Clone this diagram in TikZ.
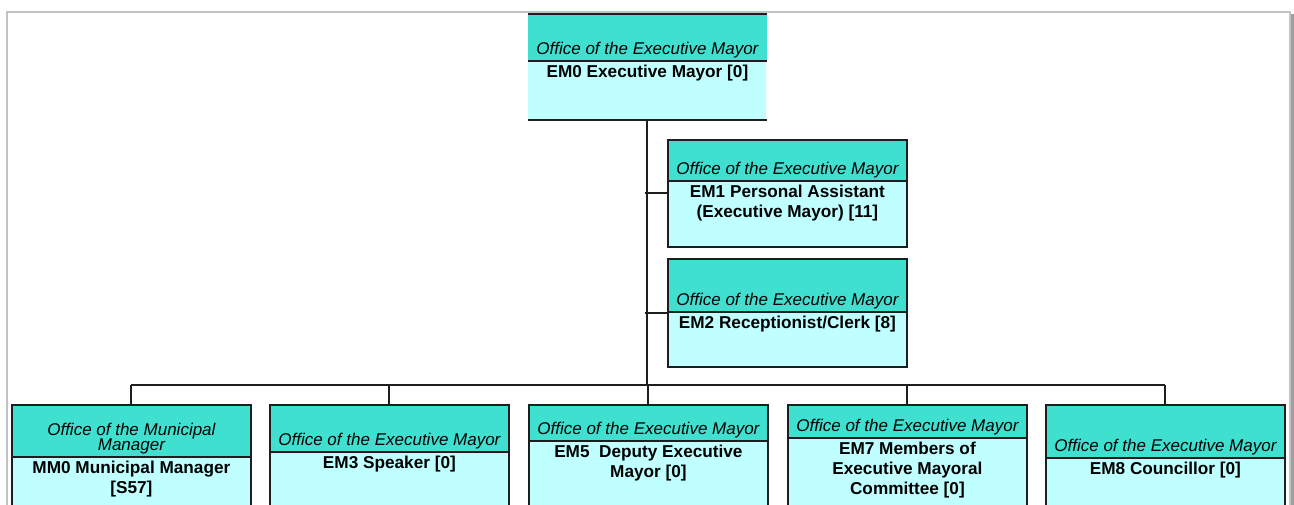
\documentclass[tikz,border=0pt]{standalone}
\usepackage{fontspec}
\setmainfont{Liberation Sans}
\usepackage{tikz}
\usetikzlibrary{calc}

\definecolor{headteal}{RGB}{64,224,208}
\definecolor{bodycyan}{RGB}{192,255,255}
\definecolor{lineink}{RGB}{30,30,30}
\definecolor{pagegrey}{RGB}{195,195,195}
\definecolor{pageshade}{RGB}{160,160,160}

\begin{document}
\begin{tikzpicture}[
  x=0.5pt, y=-0.5pt,
  boxline/.style={draw=lineink, line width=1pt},
  link/.style={draw=lineink, line width=1pt},
  pageline/.style={draw=pagegrey, line width=0.8pt},
  orgbox/.style={fill=bodycyan, minimum width=119pt, inner sep=0pt, anchor=north west},
  headtext/.style={font=\fontsize{8.5}{8.5}\selectfont\itshape,
    align=center, inner xsep=0pt, inner ysep=1.2pt, anchor=south},
  bodytext/.style={font=\fontsize{8.6}{10}\selectfont\bfseries,
    align=center, inner xsep=0pt, inner ysep=2pt, anchor=north}
]
\useasboundingbox (0,0) rectangle (1294,504);

% --- Page edge ---
\draw[pageline] (7,520) -- (7,12) -- (1290,12) -- (1290,520);
\fill[pageshade] (1291,14) rectangle (1294,520);

% --- Box helper: [sides], name, top-left, height, header depth, header, body ---
\newcommand{\OrgBox}[7][1]{%
  % Body panel
  \node[orgbox, minimum height=#4] (#2) at (#3) {};

  % Header band and divider
  \fill[headteal] (#2.north west) rectangle ([yshift=-#5]#2.north east);
  \draw[boxline] ([yshift=-#5]#2.north west) -- ([yshift=-#5]#2.north east);

  % Frame (open at the sides when #1 is 0)
  \ifnum#1=1
    \draw[boxline] (#2.north west) rectangle (#2.south east);
  \else
    \draw[boxline] (#2.north west) -- (#2.north east);
    \draw[boxline] (#2.south west) -- (#2.south east);
  \fi

  % Header text sits on the divider, body text hangs below it
  \node[headtext] (#2-head) at ([yshift=-#5]#2.north) {#6};
  \node[bodytext] (#2-body) at ([yshift=-#5]#2.north) {#7};
}

% --- Top of the office ---
\OrgBox[0]{EM0}{528,14}{52.5pt}{23.5pt}{Office of the Executive Mayor}{EM0 Executive Mayor [0]}
\OrgBox{EM1}{668,140}{53pt}{20.5pt}{Office of the Executive Mayor}{EM1 Personal Assistant\\(Executive Mayor) [11]}
\OrgBox{EM2}{668,259}{53.5pt}{26.5pt}{Office of the Executive Mayor}{EM2 Receptionist/Clerk [8]}

% --- Bottom row ---
\OrgBox{MM0}{12,405}{60pt}{26pt}{Office of the Municipal\\[-1pt]Manager}{MM0 Municipal Manager\\{[S57]}}
\OrgBox{EM3}{270,405}{60pt}{23.5pt}{Office of the Executive Mayor}{EM3 Speaker [0]}
\OrgBox{EM5}{529,405}{60pt}{18pt}{Office of the Executive Mayor}{EM5\ \ Deputy Executive\\Mayor [0]}
\OrgBox{EM7}{788,405}{60pt}{16.5pt}{Office of the Executive Mayor}{EM7 Members of\\Executive Mayoral\\Committee [0]}
\OrgBox{EM8}{1046,405}{60pt}{26.5pt}{Office of the Executive Mayor}{EM8 Councillor [0]}

% --- Connectors ---
\coordinate (bus) at (648,385);
\draw[link] (EM0.south) -- (EM0.south |- bus);
\draw[link] (EM1.west) -- ([xshift=-1pt]EM0.south |- EM1.west);
\draw[link] (EM2.west) -- ([xshift=-1pt]EM0.south |- EM2.west);
\draw[link] (MM0.north |- bus) -- (EM8.north |- bus);
\foreach \n in {MM0,EM3,EM5,EM7,EM8}
  \draw[link] (\n.north |- bus) -- (\n.north);

\end{tikzpicture}
\end{document}
